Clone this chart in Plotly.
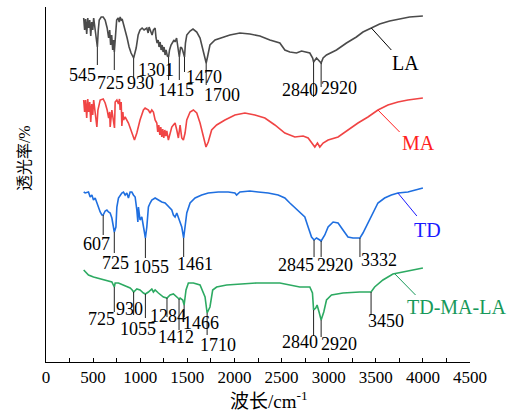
import numpy as np
import plotly.graph_objects as go

# FTIR spectra: wavenumber (cm-1) and transmittance (a.u., curves stacked with offsets)
la_wn = [400, 410, 420, 432, 443, 453, 464, 475, 485, 496, 506, 517, 528, 545, 555, 565, 586, 607,
         628, 649, 665, 676, 686, 697, 708, 718, 725, 737, 750, 766, 777, 787, 798, 808, 824, 840,
         861, 882, 903, 930, 957, 978, 998, 1020, 1041, 1070, 1084, 1094, 1105, 1126, 1140, 1158,
         1168, 1179, 1190, 1200, 1211, 1222, 1232, 1243, 1253, 1264, 1274, 1288, 1301, 1311, 1327,
         1343, 1359, 1370, 1386, 1401, 1415, 1428, 1441, 1449, 1470, 1480, 1494, 1529, 1560, 1600,
         1635, 1666, 1688, 1700, 1714, 1740, 1794, 1878, 1952, 2058, 2164, 2270, 2376, 2482, 2535,
         2588, 2659, 2712, 2765, 2800, 2830, 2840, 2871, 2895, 2920, 2941, 2977, 3083, 3189, 3294,
         3364, 3453, 3541, 3647, 3753, 3859, 4000]
la_t = [344, 332, 343, 328, 344, 334, 342, 326, 340, 332, 344, 336, 327, 315, 332, 342, 345, 345,
        342, 334, 324, 332, 317, 327, 312, 322, 310, 330, 342, 344, 340, 345, 342, 343, 338, 332,
        324, 315, 309, 304, 314, 327, 332, 334, 332, 334, 329, 335, 332, 327, 332, 334,
        324, 319, 322, 315, 320, 312, 317, 310, 315, 307, 312, 306, 305, 312, 317,
        319, 322, 320, 324, 314, 305, 315, 314, 312, 305, 319, 327, 331, 333, 330,
        324, 312, 304, 299, 305, 317, 322, 325, 327, 329, 328, 326, 322, 319, 312,
        310, 309, 311, 310, 309, 304, 300, 304, 302, 299, 304, 307, 312, 319, 325,
        330, 334, 338, 341, 343, 345, 346]

ma_wn = [400, 410, 420, 432, 443, 453, 464, 475, 485, 496, 506, 517, 528, 540, 551, 575, 607, 628,
         649, 665, 676, 681, 699, 716, 727, 734, 752, 769, 780, 787, 798, 805, 816, 822, 840, 875,
         911, 939, 964, 998, 1034, 1052, 1087, 1105, 1123, 1140, 1158, 1176, 1186, 1197, 1208,
         1218, 1229, 1239, 1250, 1261, 1271, 1282, 1299, 1317, 1335, 1352, 1370, 1388, 1405, 1423,
         1441, 1458, 1476, 1494, 1529, 1564, 1600, 1635, 1669, 1698, 1722, 1758, 1811, 1899, 2005,
         2111, 2217, 2323, 2429, 2535, 2641, 2729, 2782, 2818, 2853, 2881, 2906, 2941, 2994, 3100,
         3205, 3311, 3417, 3523, 3629, 3735, 3841, 4000]
ma_t = [262, 250, 262, 244, 263, 250, 260, 240, 258, 247, 262, 252, 244, 235, 252, 262, 263, 259,
        252, 244, 250, 235, 252, 237, 234, 260, 262, 258, 263, 252, 260, 236, 250, 242, 245, 239,
        229, 222, 229, 242, 252, 254, 252, 249, 252, 250, 242, 239, 230, 237, 227,
        235, 225, 233, 224, 232, 226, 231, 222, 230, 235, 237, 239, 232, 224, 237,
        224, 222, 229, 242, 250, 252, 249, 239, 225, 215, 220, 232, 237, 242, 247,
        249, 247, 244, 237, 229, 225, 226, 224, 220, 215, 219, 215, 219, 222, 225,
        232, 239, 245, 252, 257, 260, 262, 264]

td_wn = [400, 416, 451, 469, 487, 504, 522, 540, 557, 575, 593, 607, 628, 646, 663, 681, 699, 725,
         742, 752, 769, 787, 805, 822, 840, 858, 875, 893, 911, 928, 946, 964, 975, 981, 998, 1017,
         1034, 1055, 1070, 1087, 1105, 1123, 1158, 1193, 1229, 1264, 1299, 1335, 1352, 1370, 1388,
         1405, 1441, 1461, 1476, 1494, 1529, 1582, 1652, 1722, 1829, 1934, 2005, 2023, 2058, 2164,
         2252, 2358, 2464, 2535, 2588, 2641, 2694, 2747, 2782, 2818, 2845, 2871, 2906, 2920, 2959,
         2994, 3047, 3100, 3152, 3205, 3258, 3332, 3364, 3417, 3470, 3523, 3594, 3665, 3735, 3841,
         4000]
td_t = [170, 169, 170, 165, 167, 162, 164, 159, 155, 150, 147, 147, 151, 152, 150, 149, 144, 130,
        135, 155, 164, 167, 169, 170, 167, 169, 164, 170, 170, 167, 165, 152, 140, 155, 142, 145,
        137, 124, 135, 155, 159, 162, 164, 162, 160, 159, 155, 152, 147, 145, 149,
        144, 135, 124, 134, 149, 159, 164, 167, 169, 170, 170, 169, 167, 170, 171,
        170, 169, 167, 164, 159, 154, 150, 145, 135, 125, 122, 124, 122, 121, 127,
        135, 140, 139, 132, 125, 124, 124, 129, 139, 150, 159, 164, 167, 169, 170,
        174]

tml_wn = [400, 451, 504, 575, 646, 699, 725, 734, 769, 822, 893, 915, 930, 964, 998, 1034, 1055,
          1087, 1123, 1140, 1158, 1193, 1246, 1284, 1317, 1352, 1388, 1412, 1423, 1451, 1466, 1486,
          1511, 1564, 1635, 1688, 1710, 1740, 1769, 1811, 1917, 2058, 2235, 2411, 2482, 2694, 2800,
          2828, 2840, 2863, 2877, 2898, 2920, 2948, 2977, 3030, 3152, 3329, 3450, 3488, 3576, 3682,
          3788, 3894, 4000]
tml_t = [92, 87, 85, 83, 81, 80, 75, 79, 79, 77, 74, 72, 70, 73, 72, 69, 68,
         70, 73, 70, 72, 69, 65, 64, 67, 68, 65, 63, 64, 62, 57, 72,
         79, 79, 77, 65, 49, 55, 72, 75, 77, 78, 79, 79, 79, 75, 75,
         69, 52, 54, 57, 50, 42, 50, 62, 67, 69, 70, 70, 75, 82, 88,
         90, 92, 94]

# Peak assignments per spectrum
la_peaks = [545, 725, 930, 1301, 1415, 1470, 1700, 2840, 2920]
td_peaks = [607, 725, 1055, 1461, 2845, 2920, 3332]
tml_peaks = [725, 930, 1055, 1284, 1412, 1466, 1710, 2840, 2920, 3450]

# Label placement: (text x, text y, lower end of the marker line)
la_lbl = [(392, 287, 297), (688, 279, 292), (999, 279, 285), (1168, 292, 282), (1380, 272, 282),
          (1677, 285, 290), (1867, 267, 277), (2694, 272, 265), (3112, 274, 275)]
td_lbl = [(533, 118, 127), (734, 99, 109), (1115, 95, 104), (1582, 98, 105), (2651, 97, 105),
          (3065, 97, 105), (3530, 102, 105)]
tml_lbl = [(593, 43, 50), (882, 53, 47), (978, 33, 44), (1296, 46, 45), (1380, 25, 32),
           (1645, 39, 45), (1825, 17, 27), (2694, 20, 26), (3107, 18, 25), (3605, 41, 47)]

series = [
    dict(name="LA", wn=la_wn, t=la_t, color="#4b4b4b", tcolor="#000000",
         lead=(3453, 3665, 312), txt=(3811, 299)),
    dict(name="MA", wn=ma_wn, t=ma_t, color="#f04444", tcolor="#ff1f1f",
         lead=(3523, 3753, 230), txt=(3949, 219)),
    dict(name="TD", wn=td_wn, t=td_t, color="#1f6fe0", tcolor="#1a1aff",
         lead=(3735, 3936, 146), txt=(4050, 132)),
    dict(name="TD-MA-LA", wn=tml_wn, t=tml_t, color="#2daa62", tcolor="#17995a",
         lead=(3700, 3922, 67), txt=(4357, 55)),
]

SERIF = "Times New Roman, Liberation Serif, Noto Sans CJK SC, serif"

fig = go.Figure()
shapes, annos = [], []

for s in series:
    fig.add_trace(go.Scatter(x=s["wn"], y=s["t"], mode="lines", name=s["name"],
                             line=dict(color=s["color"], width=1.6), showlegend=False))
    x0, x1, y1 = s["lead"]
    y0 = float(np.interp(x0, s["wn"], s["t"]))
    shapes.append(dict(type="line", xref="x", yref="y", x0=x0, y0=y0, x1=x1, y1=y1,
                       line=dict(color=s["tcolor"], width=1)))
    annos.append(dict(x=s["txt"][0], y=s["txt"][1], xref="x", yref="y", text=s["name"],
                      xanchor="center", yanchor="middle", showarrow=False,
                      font=dict(family=SERIF, size=20, color=s["tcolor"])))


def mark_peaks(wn, t, peaks, lbl):
    wn = np.asarray(wn, float)
    t = np.asarray(t, float)
    for p, (lx, ly, yb) in zip(peaks, lbl):
        win = (wn >= p - 15) & (wn <= p + 15)
        ytop = t[win].min() if win.any() else np.interp(p, wn, t)
        shapes.append(dict(type="line", xref="x", yref="y", x0=p, x1=p, y0=ytop, y1=yb,
                           line=dict(color="#222222", width=1)))
        annos.append(dict(x=lx, y=ly, xref="x", yref="y", text=str(p), showarrow=False,
                          xanchor="center", yanchor="middle",
                          font=dict(family=SERIF, size=18, color="#000000")))


mark_peaks(la_wn, la_t, la_peaks, la_lbl)
mark_peaks(td_wn, td_t, td_peaks, td_lbl)
mark_peaks(tml_wn, tml_t, tml_peaks, tml_lbl)

annos.append(dict(x=0.526, y=-0.108, xref="paper", yref="paper", text="波长/cm<sup>-1</sup>",
                  xanchor="center", yanchor="middle", showarrow=False,
                  font=dict(family=SERIF, size=19, color="#000000")))
annos.append(dict(x=-0.049, y=0.575, xref="paper", yref="paper", text="透光率/%",
                  xanchor="center", yanchor="middle", textangle=-90, showarrow=False,
                  font=dict(family=SERIF, size=16, color="#000000")))

fig.update_layout(
    width=515, height=413,
    margin=dict(l=45.7, r=44.5, t=7, b=51),
    paper_bgcolor="white", plot_bgcolor="white",
    shapes=shapes, annotations=annos,
    xaxis=dict(range=[0, 4500], tickvals=list(range(0, 4501, 500)), ticks="inside", ticklen=4,
               tickcolor="#000", showline=True, linecolor="#000", linewidth=1, showgrid=False,
               zeroline=False, tickfont=dict(family=SERIF, size=17, color="#000"),
               minor=dict(dtick=250, ticks="inside", ticklen=4, tickcolor="#000", showgrid=False)),
    yaxis=dict(range=[0, 355], showticklabels=False, ticks="", showline=True, linecolor="#000",
               linewidth=1, showgrid=False, zeroline=False),
)

fig.write_html("out.html")
